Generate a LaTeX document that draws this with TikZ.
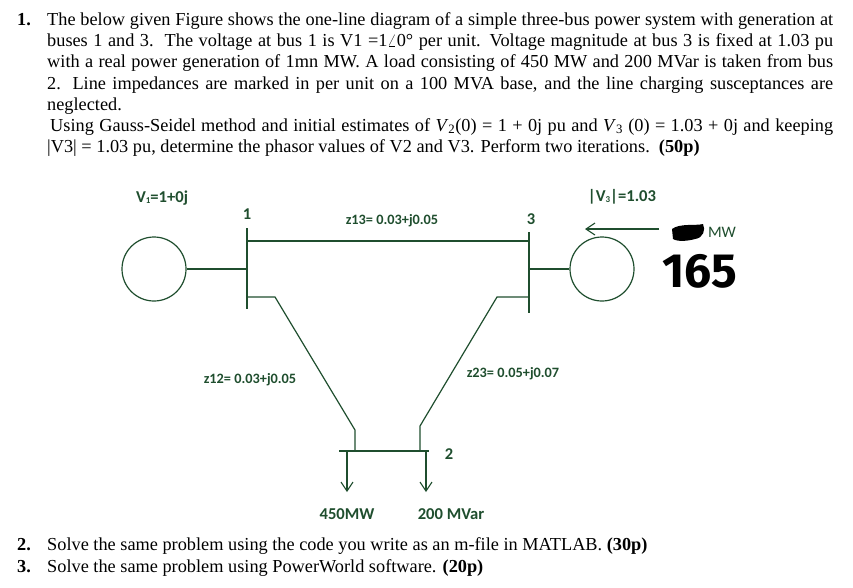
\documentclass[tikz,border=0pt]{standalone}
\usepackage{fontspec}
\setmainfont{Liberation Serif}
\newfontfamily\lblfont{Carlito}[BoldFont={Carlito Bold}]
\newfontfamily\handfont{Fira Sans Bold}
\definecolor{dkgreen}{HTML}{1F4E2E}
\tikzset{
  wire/.style={draw=dkgreen,line width=1.2pt},
  busbar/.style={draw=dkgreen,line width=1.5pt},
  gen/.style={circle,draw=dkgreen,line width=1.2pt,minimum size=64pt,inner sep=0pt},
  para/.style={anchor=base west,inner sep=0pt,font=\fontsize{18.3pt}{20pt}\selectfont},
  lbl/.style={anchor=center,inner sep=0pt,text=dkgreen,font=\lblfont\bfseries\fontsize{14.3pt}{16pt}\selectfont},
  biglbl/.style={lbl,font=\lblfont\bfseries\fontsize{16.6pt}{18pt}\selectfont},
  numlbl/.style={lbl,font=\lblfont\bfseries\fontsize{16.5pt}{18pt}\selectfont},
  flow/.style={wire,-{Straight Barb[length=9pt,width=12pt,line width=1.1pt]}},
}
\usetikzlibrary{arrows.meta}
\newcommand{\jline}[1]{\makebox[786pt][s]{#1}}
\newcommand{\tinysub}[1]{\raisebox{-1pt}{\fontsize{9pt}{10pt}\selectfont #1}}
\begin{document}
\begin{tikzpicture}[x=1pt,y=-1pt]
\useasboundingbox (0,0) rectangle (853,587);
% question text
\node[para] (n1) at (17,25.5) {\textbf{1.}};
\node[para] (l1) at (47,25.5) {\jline{The below given Figure shows the one-line diagram of a simple three-bus power system with generation at}};
\node[para] (l2) at (47,46.5) {\jline{buses 1 and 3.\ \ The voltage at bus 1 is V1 =1$\angle$0° per unit. Voltage magnitude at bus 3 is fixed at 1.03 pu}};
\node[para] (l3) at (47,67.5) {\jline{with a real power generation of 1mn MW. A load consisting of 450 MW and 200 MVar is taken from bus}};
\node[para] (l4) at (47,89) {\jline{2. Line impedances are marked in per unit on a 100 MVA base, and the line charging susceptances are}};
\node[para] (l5) at (47,110) {neglected.};
\node[para] (l6) at (50,131) {\makebox[783pt][s]{Using Gauss-Seidel method and initial estimates of \textit{V}\textsubscript{2}(0) = 1 + 0j pu and \textit{V}\textsubscript{3} (0) = 1.03 + 0j and keeping}};
\node[para] (l7) at (47,152) {|V3| = 1.03 pu, determine the phasor values of V2 and V3. Perform two iterations.\ \ \textbf{(50p)}};
% generators
\node[gen] (g1) at (154,269) {};
\node[gen] (g3) at (602,269) {};
% bus coordinates
\coordinate (b1t) at (247,228);
\coordinate (b1b) at (247,309);
\coordinate (b1a) at (247,241);
\coordinate (b1g) at (247,269);
\coordinate (b1c) at (247,297);
\coordinate (b3t) at (529,232);
\coordinate (b3b) at (529,313);
\coordinate (b3a) at (529,241);
\coordinate (b3g) at (529,269);
\coordinate (b3c) at (529,297);
\coordinate (b2l) at (339,451);
\coordinate (b2r) at (429,451);
\coordinate (k1) at (275,297);
\coordinate (k1b) at (355,430);
\coordinate (k1c) at (355,451);
\coordinate (k3) at (497,297);
\coordinate (k3b) at (420,426);
\coordinate (k3c) at (420,451);
\coordinate (la) at (347,451);
\coordinate (lae) at (347,492);
\coordinate (lb) at (426,451);
\coordinate (lbe) at (426,492);
\coordinate (fs) at (659,229);
\coordinate (fe) at (585,229);
% buses
\draw[busbar] (b1t) -- (b1b);
\draw[busbar] (b3t) -- (b3b);
\draw[busbar] (b2l) -- (b2r);
% lines
\draw[wire] (g1) -- (b1g);
\draw[wire] (g3) -- (b3g);
\draw[wire] (b1a) -- (b3a);
\draw[wire] (b1c) -- (k1) -- (k1b) -- (k1c);
\draw[wire] (b3c) -- (k3) -- (k3b) -- (k3c);
\draw[flow] (la) -- (lae);
\draw[flow] (lb) -- (lbe);
\draw[flow] (fs) -- (fe);
% labels
\node[biglbl] (v1) at (162,198) {V\tinysub{1}=1+0j};
\node[biglbl] (v3) at (622,197) {|V\tinysub{3}|=1.03};
\node[numlbl] (n1b) at (247,214) {1};
\node[numlbl] (n3b) at (531,219) {3};
\node[numlbl] (n2b) at (449,454) {2};
\node[lbl] (z13) at (392,221) {z13= 0.03+j0.05};
\node[lbl] (z12) at (250,380) {z12= 0.03+j0.05};
\node[lbl] (z23) at (513,374) {z23= 0.05+j0.07};
\node[biglbl] (p) at (347,514) {450MW};
\node[biglbl] (q) at (451,514) {200 MVar};
\node[lbl,font=\lblfont\fontsize{16pt}{18pt}\selectfont] (mw) at (722,232) {MW};
% scribbled-out value and handwritten figure
\fill[black] (672,229) .. controls (680,223) and (695,226) .. (703,224) .. controls (706,230) and (703,238) .. (695,239) .. controls (688,241) and (678,242) .. (673,239) -- cycle;
\node[anchor=center,inner sep=0pt,font=\handfont\fontsize{48pt}{50pt}\selectfont] (h) at (700,271) {165};
% closing questions
\node[para] (n2) at (17,550) {\textbf{2.}};
\node[para] (q2) at (47,550) {Solve the same problem using the code you write as an m-file in MATLAB. \textbf{(30p)}};
\node[para] (n3) at (17,572) {\textbf{3.}};
\node[para] (q3) at (47,572) {Solve the same problem using PowerWorld software. \textbf{(20p)}};
\end{tikzpicture}
\end{document}
